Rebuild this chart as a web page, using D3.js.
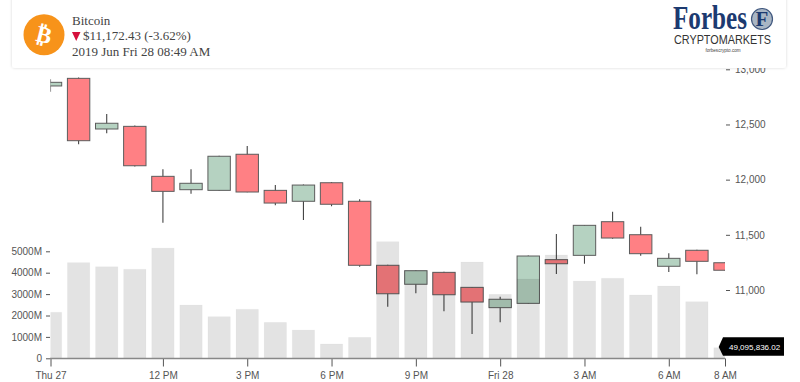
<!DOCTYPE html>
<html><head><meta charset="utf-8">
<script src="https://cdnjs.cloudflare.com/ajax/libs/d3/7.8.5/d3.min.js"></script>
<style>
html,body{margin:0;padding:0;background:#fff;overflow:hidden}
svg{display:block}
text{font-family:"Liberation Sans",Arial,sans-serif}
.axis text{font-size:10px;fill:#555}
.axis path{display:none}
.axis line{stroke:#555}
.hd{font-family:"Liberation Serif",serif;font-size:13px;fill:#444}
</style></head><body>
<svg id="c" width="800" height="382"></svg>
<script>
const hours  = d3.range(25);
const open   = [12849,12918,12459,12483,12030,11909,11903,12230,11903,11804,11972,11804,11224,11052,11160,11024,10840,10879,11275,11314,11619,11501,11215,11360,11247];
const close  = [12882,12353,12511,12126,11894,11967,12212,11888,11788,11951,11777,11224,10966,11175,10957,10891,10916,11308,11238,11586,11471,11329,11287,11260,11179];
const high   = [12909,12925,12595,12490,12094,12094,12216,12305,11951,11955,11978,11822,11228,11180,11165,11028,10939,11312,11507,11590,11710,11574,11333,11364,11250];
const low    = [12797,12320,12420,12120,11610,11873,11900,11885,11768,11634,11758,11211,10849,10970,10807,10601,10707,10875,11145,11238,11465,11311,11163,11142,11176];
const volume = [2150,4470,4280,4160,5150,2490,1945,2290,1680,1320,670,980,5450,4090,4000,4500,2990,3705,4830,3610,3740,2960,3380,2645,495];
const xTickHours  = [0,4,7,10,13,16,19,22,24];
const xTickLabels = ["Thu 27","12 PM","3 PM","6 PM","9 PM","Fri 28","3 AM","6 AM","8 AM"];
const priceTicks  = [11000,11500,12000,12500,13000];
const volumeTicks = [0,1000,2000,3000,4000,5000];
const lastVolumeLabel = "49,095,836.02";
const hdName = "Bitcoin", hdPrice = "$11,172.43 (-3.62%)", hdDate = "2019 Jun Fri 28 08:49 AM";

const svg = d3.select("#c");
const x  = d3.scaleLinear().domain([0,24]).range([50.5,725]);
const yP = d3.scaleLinear().domain([11000,13000]).range([290,69.3]);
const yV = d3.scaleLinear().domain([0,5000]).range([358.3,251.3]);
const W = 22.4;

svg.append("defs").append("clipPath").attr("id","plot").append("rect")
  .attr("x",50.5).attr("y",60).attr("width",674.5).attr("height",300);
svg.select("defs").append("filter").attr("id","sh").attr("x","-5%").attr("y","-20%").attr("width","110%").attr("height","140%")
  .append("feDropShadow").attr("dx",0).attr("dy",0).attr("stdDeviation",1.6).attr("flood-color","#000").attr("flood-opacity",.16);

const g = svg.append("g").attr("clip-path","url(#plot)");
const cg = g.selectAll("g.cd").data(hours).join("g");
cg.append("line").attr("x1",i=>x(i)).attr("x2",i=>x(i))
  .attr("y1",i=>yP(high[i])).attr("y2",i=>yP(low[i]))
  .attr("stroke","#444").attr("stroke-width",1.1);
cg.append("rect").attr("x",i=>x(i)-W/2).attr("width",W)
  .attr("y",i=>yP(Math.max(open[i],close[i])))
  .attr("height",i=>Math.abs(yP(open[i])-yP(close[i])))
  .attr("fill",i=>close[i]>=open[i]?"#b5d2c1":"#ff8084")
  .attr("stroke","#5c5c5c").attr("stroke-width",1);
g.selectAll("rect.v").data(hours).join("rect").attr("class","v")
  .attr("x",i=>x(i)-W/2).attr("width",W)
  .attr("y",i=>yV(volume[i])).attr("height",i=>yV(0)-yV(volume[i]))
  .attr("fill","#000").attr("fill-opacity",.11)
  .attr("stroke","#000").attr("stroke-opacity",.02).attr("stroke-width",1);

const ax = svg.append("g").attr("class","axis").attr("transform","translate(0,358.5)")
  .call(d3.axisBottom(x).tickValues(xTickHours).tickFormat((d,i)=>xTickLabels[i]).tickSize(8).tickPadding(3));
ax.selectAll("text").attr("font-size",10).attr("dy","0.95em");
svg.append("line").attr("x1",50).attr("x2",725).attr("y1",358.5).attr("y2",358.5).attr("stroke","#888").attr("stroke-width",1.6);

svg.append("g").attr("class","axis").attr("transform","translate(50,0)")
  .call(d3.axisLeft(yV).tickValues(volumeTicks).tickFormat(d=>d===0?"0":d+"M").tickSize(4).tickPadding(4));
svg.append("g").attr("class","axis").attr("transform","translate(726,0)")
  .call(d3.axisRight(yP).tickValues(priceTicks).tickFormat(d3.format(",")).tickSize(4).tickPadding(5));

// last-value flag
const yf = 347;
svg.append("path").attr("d",`M718.7 ${yf}L723 337.3H784V355.7H723Z`).attr("fill","#000");
svg.append("text").attr("x",729).attr("y",yf+3).attr("font-size",8).attr("fill","#fff").text(lastVolumeLabel);

// header
svg.append("rect").attr("x",12).attr("y",-6).attr("width",774).attr("height",74).attr("rx",3)
  .attr("fill","#fff").attr("filter","url(#sh)");
svg.append("circle").attr("cx",44).attr("cy",34.7).attr("r",20.5).attr("fill","#f7931a");
svg.append("text").attr("x",44).attr("y",42.5).attr("text-anchor","middle").attr("font-size",23).attr("font-weight","bold")
  .attr("fill","#fff").attr("transform","rotate(14 44 35)").style("font-family","'DejaVu Sans'").text("\u20BF");
svg.append("text").attr("class","hd").attr("x",72).attr("y",24.5).text(hdName);
svg.append("path").attr("d","M72 32H80.5L76.2 41Z").attr("fill","#d5103c");
svg.append("text").attr("class","hd").attr("x",83).attr("y",40).text(hdPrice);
svg.append("text").attr("class","hd").attr("x",72).attr("y",55.5).text(hdDate);

// logo
svg.append("text").attr("x",673).attr("y",29).attr("font-size",33).attr("font-weight","bold").attr("fill","#1c3a70")
  .attr("textLength",74).attr("lengthAdjust","spacingAndGlyphs").style("font-family","'Liberation Serif'").text("Forbes");
svg.append("circle").attr("cx",762).attr("cy",19).attr("r",10.5).attr("fill","#a9b6c4").attr("stroke","#40587f").attr("stroke-width",1.2);
svg.append("text").attr("x",762).attr("y",26).attr("text-anchor","middle").attr("font-size",21).attr("font-weight","bold").attr("fill","#1c3a70")
  .style("font-family","'Liberation Serif'").text("F");
svg.append("text").attr("x",674).attr("y",44).attr("font-size",13).attr("fill","#333")
  .attr("textLength",97).attr("lengthAdjust","spacingAndGlyphs").text("CRYPTOMARKETS");
svg.append("text").attr("x",723).attr("y",51.5).attr("text-anchor","middle").attr("font-size",4.6).attr("fill","#444").text("forbescrypto.com");
</script>
</body></html>
